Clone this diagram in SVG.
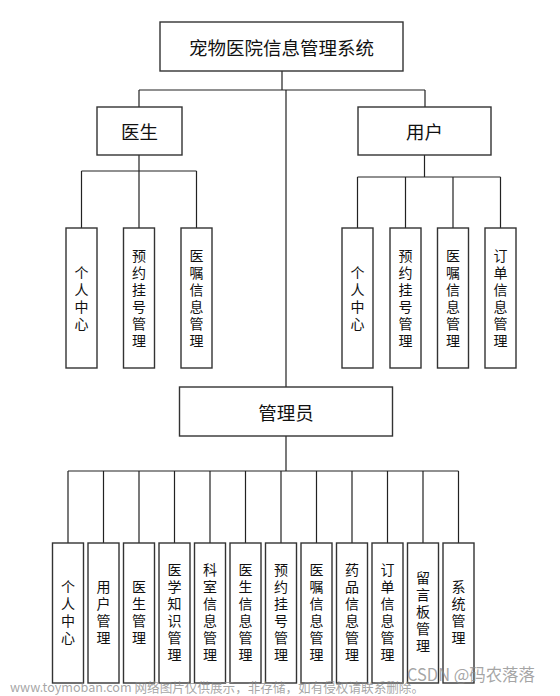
<svg xmlns="http://www.w3.org/2000/svg" width="560" height="696" viewBox="0 0 560 696">
<style>
.bg{fill:#fff}
.box{fill:#fff;stroke:#333;stroke-width:1.4}
.ln{fill:none;stroke:#222;stroke-width:1.2}
.h{font-family:"Noto Sans CJK SC","Liberation Sans",sans-serif;font-size:18.5px;text-anchor:middle;dominant-baseline:central;fill:#111}
.v{font-family:"Noto Sans CJK SC","Liberation Sans",sans-serif;font-size:14px;text-anchor:middle;writing-mode:vertical-rl;text-orientation:upright;letter-spacing:3px;fill:#111}
.wm{font-family:"Noto Sans CJK SC","Liberation Sans",sans-serif;fill:#888;fill-opacity:0.75}
</style>
<rect class="bg" x="0" y="0" width="560" height="696"/>
<g id="connectors">
<path class="ln" d="M282 71V90M139 90H425M139 90V107M425 90V107M286 90V387"/>
<path class="ln" d="M139 155V171M81.5 171H196.5M81.5 171V228M139 171V228M196.5 171V228"/>
<path class="ln" d="M424.5 155V177M357.5 177H500.5M357.5 177V228M405.5 177V228M453 177V228M500.5 177V228"/>
<path class="ln" d="M286 436V471M68 471H458.5M68 471V543M103.5 471V543M139 471V543M174.5 471V543M210 471V543M245.5 471V543M281 471V543M316.5 471V543M352 471V543M387.5 471V543M423 471V543M458.5 471V543"/>
</g>
<g id="root"><rect class="box" x="160" y="22" width="243" height="49"/><text class="h" x="281.5" y="46.5" font-size="19.5">宠物医院信息管理系统</text></g>
<g id="doctor"><rect class="box" x="97" y="107" width="85" height="48"/><text class="h" x="139.5" y="131">医生</text></g>
<g id="user"><rect class="box" x="358" y="107" width="133" height="48"/><text class="h" x="424.5" y="131">用户</text></g>
<g id="admin"><rect class="box" x="179.5" y="387" width="213" height="49"/><text class="h" x="286" y="411.5">管理员</text></g>

<g id="d1"><rect class="box" x="66" y="228" width="31" height="140"/><text class="v" x="81.5" y="299.5">个人中心</text></g>
<g id="d2"><rect class="box" x="123.5" y="228" width="31" height="140"/><text class="v" x="139" y="299.5">预约挂号管理</text></g>
<g id="d3"><rect class="box" x="181" y="228" width="31" height="140"/><text class="v" x="196.5" y="299.5">医嘱信息管理</text></g>

<g id="u1"><rect class="box" x="342" y="228" width="31" height="140"/><text class="v" x="357.5" y="299.5">个人中心</text></g>
<g id="u2"><rect class="box" x="390" y="228" width="31" height="140"/><text class="v" x="405.5" y="299.5">预约挂号管理</text></g>
<g id="u3"><rect class="box" x="437.5" y="228" width="31" height="140"/><text class="v" x="453" y="299.5">医嘱信息管理</text></g>
<g id="u4"><rect class="box" x="485" y="228" width="31" height="140"/><text class="v" x="500.5" y="299.5">订单信息管理</text></g>

<g id="a1"><rect class="box" x="52.5" y="543" width="31" height="140"/><text class="v" x="68" y="613.5">个人中心</text></g>
<g id="a2"><rect class="box" x="88" y="543" width="31" height="140"/><text class="v" x="103.5" y="613.5">用户管理</text></g>
<g id="a3"><rect class="box" x="123.5" y="543" width="31" height="140"/><text class="v" x="139" y="613.5">医生管理</text></g>
<g id="a4"><rect class="box" x="159" y="543" width="31" height="140"/><text class="v" x="174.5" y="613.5">医学知识管理</text></g>
<g id="a5"><rect class="box" x="194.5" y="543" width="31" height="140"/><text class="v" x="210" y="613.5">科室信息管理</text></g>
<g id="a6"><rect class="box" x="230" y="543" width="31" height="140"/><text class="v" x="245.5" y="613.5">医生信息管理</text></g>
<g id="a7"><rect class="box" x="265.5" y="543" width="31" height="140"/><text class="v" x="281" y="613.5">预约挂号管理</text></g>
<g id="a8"><rect class="box" x="301" y="543" width="31" height="140"/><text class="v" x="316.5" y="613.5">医嘱信息管理</text></g>
<g id="a9"><rect class="box" x="336.5" y="543" width="31" height="140"/><text class="v" x="352" y="613.5">药品信息管理</text></g>
<g id="a10"><rect class="box" x="372" y="543" width="31" height="140"/><text class="v" x="387.5" y="613.5">订单信息管理</text></g>
<g id="a11"><rect class="box" x="407.5" y="543" width="31" height="140"/><text class="v" x="423" y="613.5">留言板管理</text></g>
<g id="a12"><rect class="box" x="443" y="543" width="31" height="140"/><text class="v" x="458.5" y="613.5">系统管理</text></g>

<g id="watermark">
<text class="wm" x="10" y="692" font-size="13" textLength="414" lengthAdjust="spacingAndGlyphs">www.toymoban.com 网络图片仅供展示，非存储，如有侵权请联系删除。</text>
<text class="wm" x="407" y="681" font-size="17" textLength="128" lengthAdjust="spacingAndGlyphs">CSDN @码农落落</text>
</g>
</svg>
